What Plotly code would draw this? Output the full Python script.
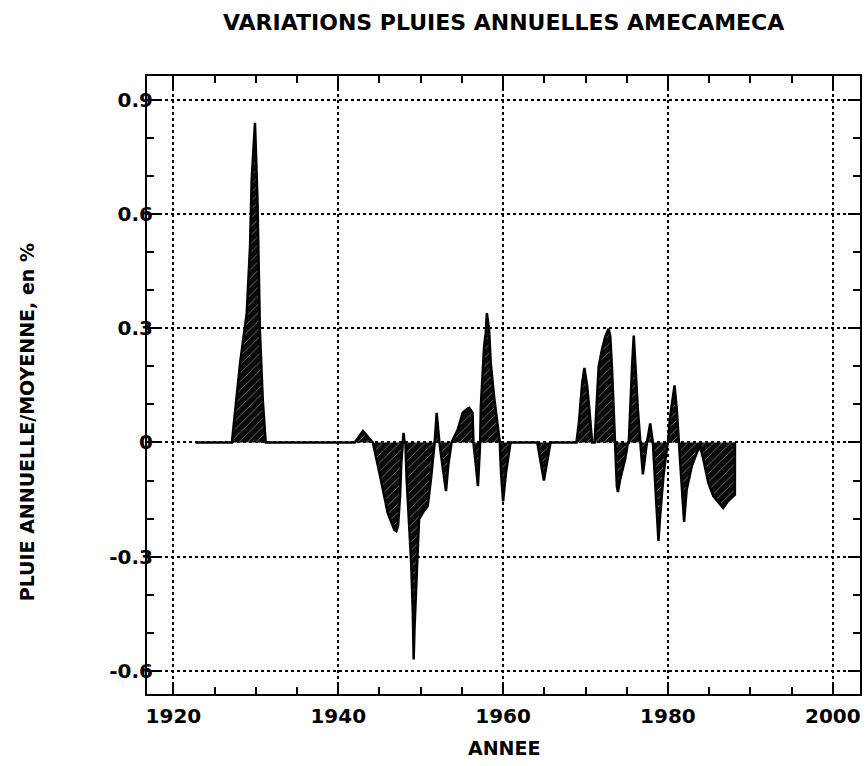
import plotly.graph_objects as go

# ---- data ----
YEARS = [
    1922.7, 1927.1, 1928.1, 1928.9, 1929.3, 1929.5, 1929.9, 1930.2, 1930.5, 1930.85, 1931.2,
    1942.0, 1943.0, 1944.2,
    1945.0, 1945.4, 1946.0, 1946.8, 1947.05, 1947.25, 1947.5, 1947.65, 1947.8,
    1947.92, 1948.05,
    1948.15, 1948.3, 1948.55, 1948.85, 1949.05, 1949.15, 1949.25, 1949.55, 1949.8, 1950.25,
    1950.85, 1951.25, 1951.55, 1951.7,
    1951.94, 1952.27,
    1952.7, 1953.07, 1953.35, 1953.75,
    1954.5, 1955.1, 1955.7, 1955.9, 1956.3, 1956.4,
    1956.7, 1956.95, 1957.22,
    1957.3, 1957.5, 1957.7, 1957.9, 1958.03, 1958.3, 1958.5, 1958.9, 1959.3, 1959.6,
    1959.75, 1960.0, 1960.35, 1960.9,
    1964.15, 1964.95, 1965.75,
    1968.9, 1969.2, 1969.4, 1969.6, 1969.87, 1970.2, 1970.5, 1970.7, 1970.8, 1971.1,
    1971.3, 1971.6, 1972.0, 1972.4, 1972.8, 1973.0, 1973.2, 1973.4, 1973.53,
    1973.8, 1973.93, 1974.2, 1974.8, 1975.15,
    1975.25, 1975.45, 1975.65, 1975.85, 1976.05, 1976.35, 1976.65,
    1976.96, 1977.45,
    1977.85, 1978.17,
    1978.45, 1978.65, 1978.85, 1979.05, 1979.45, 1979.85, 1980.0,
    1980.27, 1980.55, 1980.8, 1981.07, 1981.27, 1981.35,
    1981.67, 1981.96, 1982.27, 1982.9, 1983.5, 1983.9,
    1984.3, 1984.9, 1985.5, 1986.1, 1986.7, 1987.3, 1987.9, 1988.12, 1988.13,
]
VALUES = [
    0, 0, 0.21, 0.34, 0.515, 0.69, 0.84, 0.64, 0.29, 0.11, 0,
    0, 0.03, 0,
    -0.08, -0.124, -0.185, -0.229, -0.233, -0.22, -0.141, -0.053, 0,
    0.025, 0,
    0, -0.097, -0.185, -0.316, -0.448, -0.57, -0.49, -0.316, -0.202, -0.185,
    -0.167, -0.097, -0.036, 0,
    0.078, 0,
    -0.07, -0.128, -0.06, 0,
    0.034, 0.078, 0.089, 0.091, 0.078, 0,
    -0.06, -0.115, 0,
    0.095, 0.174, 0.253, 0.288, 0.34, 0.297, 0.209, 0.122, 0.06, 0,
    -0.08, -0.155, -0.08, 0,
    0, -0.10, 0,
    0, 0.052, 0.113, 0.157, 0.196, 0.148, 0.078, 0.025, 0, 0,
    0.069, 0.2, 0.244, 0.279, 0.299, 0.279, 0.2, 0.087, 0,
    -0.115, -0.13, -0.097, -0.045, 0,
    0, 0.113, 0.2, 0.281, 0.2, 0.087, 0,
    -0.084, 0,
    0.05, 0,
    -0.106, -0.194, -0.259, -0.194, -0.089, -0.018, 0,
    0.069, 0.113, 0.15, 0.087, 0.025, 0,
    -0.115, -0.209, -0.124, -0.062, -0.027, -0.01,
    -0.045, -0.106, -0.141, -0.158, -0.172, -0.154, -0.141, -0.137, 0,
]
assert len(YEARS) == len(VALUES)

Y_TICKS = [0.9, 0.6, 0.3, 0, -0.3, -0.6]
Y_TICKTEXT = ["0.9", "0.6", "0.3", "0", "-0.3", "-0.6"]
X_TICKS = [1920, 1940, 1960, 1980, 2000]

TITLE = "VARIATIONS PLUIES ANNUELLES AMECAMECA"
X_LABEL = "ANNEE"
Y_LABEL = "PLUIE ANNUELLE/MOYENNE, en %"

FONT = "DejaVu Sans"

fig = go.Figure()
fig.add_trace(go.Scatter(
    x=YEARS, y=VALUES, mode="lines",
    line=dict(color="black", width=2.5),
    fill="tozeroy",
    fillcolor="black",
    fillpattern=dict(shape="/", bgcolor="#0a0a0a", fgcolor="#8a8a8a",
                     size=6, solidity=0.12, fillmode="replace"),
    hoverinfo="skip", showlegend=False,
))

axis_common = dict(
    showline=True, linecolor="black", linewidth=2, mirror="allticks",
    ticks="inside", ticklen=12, tickwidth=2, tickcolor="black",
    showgrid=True, gridcolor="black", gridwidth=1.5, griddash="dot",
    zeroline=False,
    tickfont=dict(family=FONT, size=20, color="black", weight="bold"),
)

fig.update_xaxes(
    range=[1916.8, 2003.3], tickvals=X_TICKS,
    minor=dict(dtick=5, tick0=1920, ticks="inside", ticklen=7, tickwidth=2,
               tickcolor="black", showgrid=False),
    ticklabelstandoff=3,
    **axis_common,
)
fig.update_yaxes(
    range=[-0.661, 0.963], tickvals=Y_TICKS, ticktext=Y_TICKTEXT,
    minor=dict(dtick=0.1, tick0=0, ticks="inside", ticklen=7, tickwidth=2,
               tickcolor="black", showgrid=False),
    ticklabelstandoff=-12,
    **axis_common,
)

fig.update_layout(
    width=867, height=766,
    margin=dict(l=147, r=5, t=76, b=72),
    paper_bgcolor="white", plot_bgcolor="white",
    annotations=[
        dict(text=TITLE, xref="paper", yref="paper", x=0.5, y=1.087,
             xanchor="center", yanchor="middle", showarrow=False,
             font=dict(family=FONT, size=22, color="black", weight="bold")),
        dict(text=X_LABEL, xref="paper", yref="paper", x=0.5, y=-0.0874,
             xanchor="center", yanchor="middle", showarrow=False,
             font=dict(family=FONT, size=19, color="black", weight="bold")),
        dict(text=Y_LABEL, xref="paper", yref="paper", x=-0.168, y=0.44,
             xanchor="center", yanchor="middle", showarrow=False, textangle=-90,
             font=dict(family=FONT, size=19, color="black", weight="bold")),
    ],
)

fig.write_html("out.html")
